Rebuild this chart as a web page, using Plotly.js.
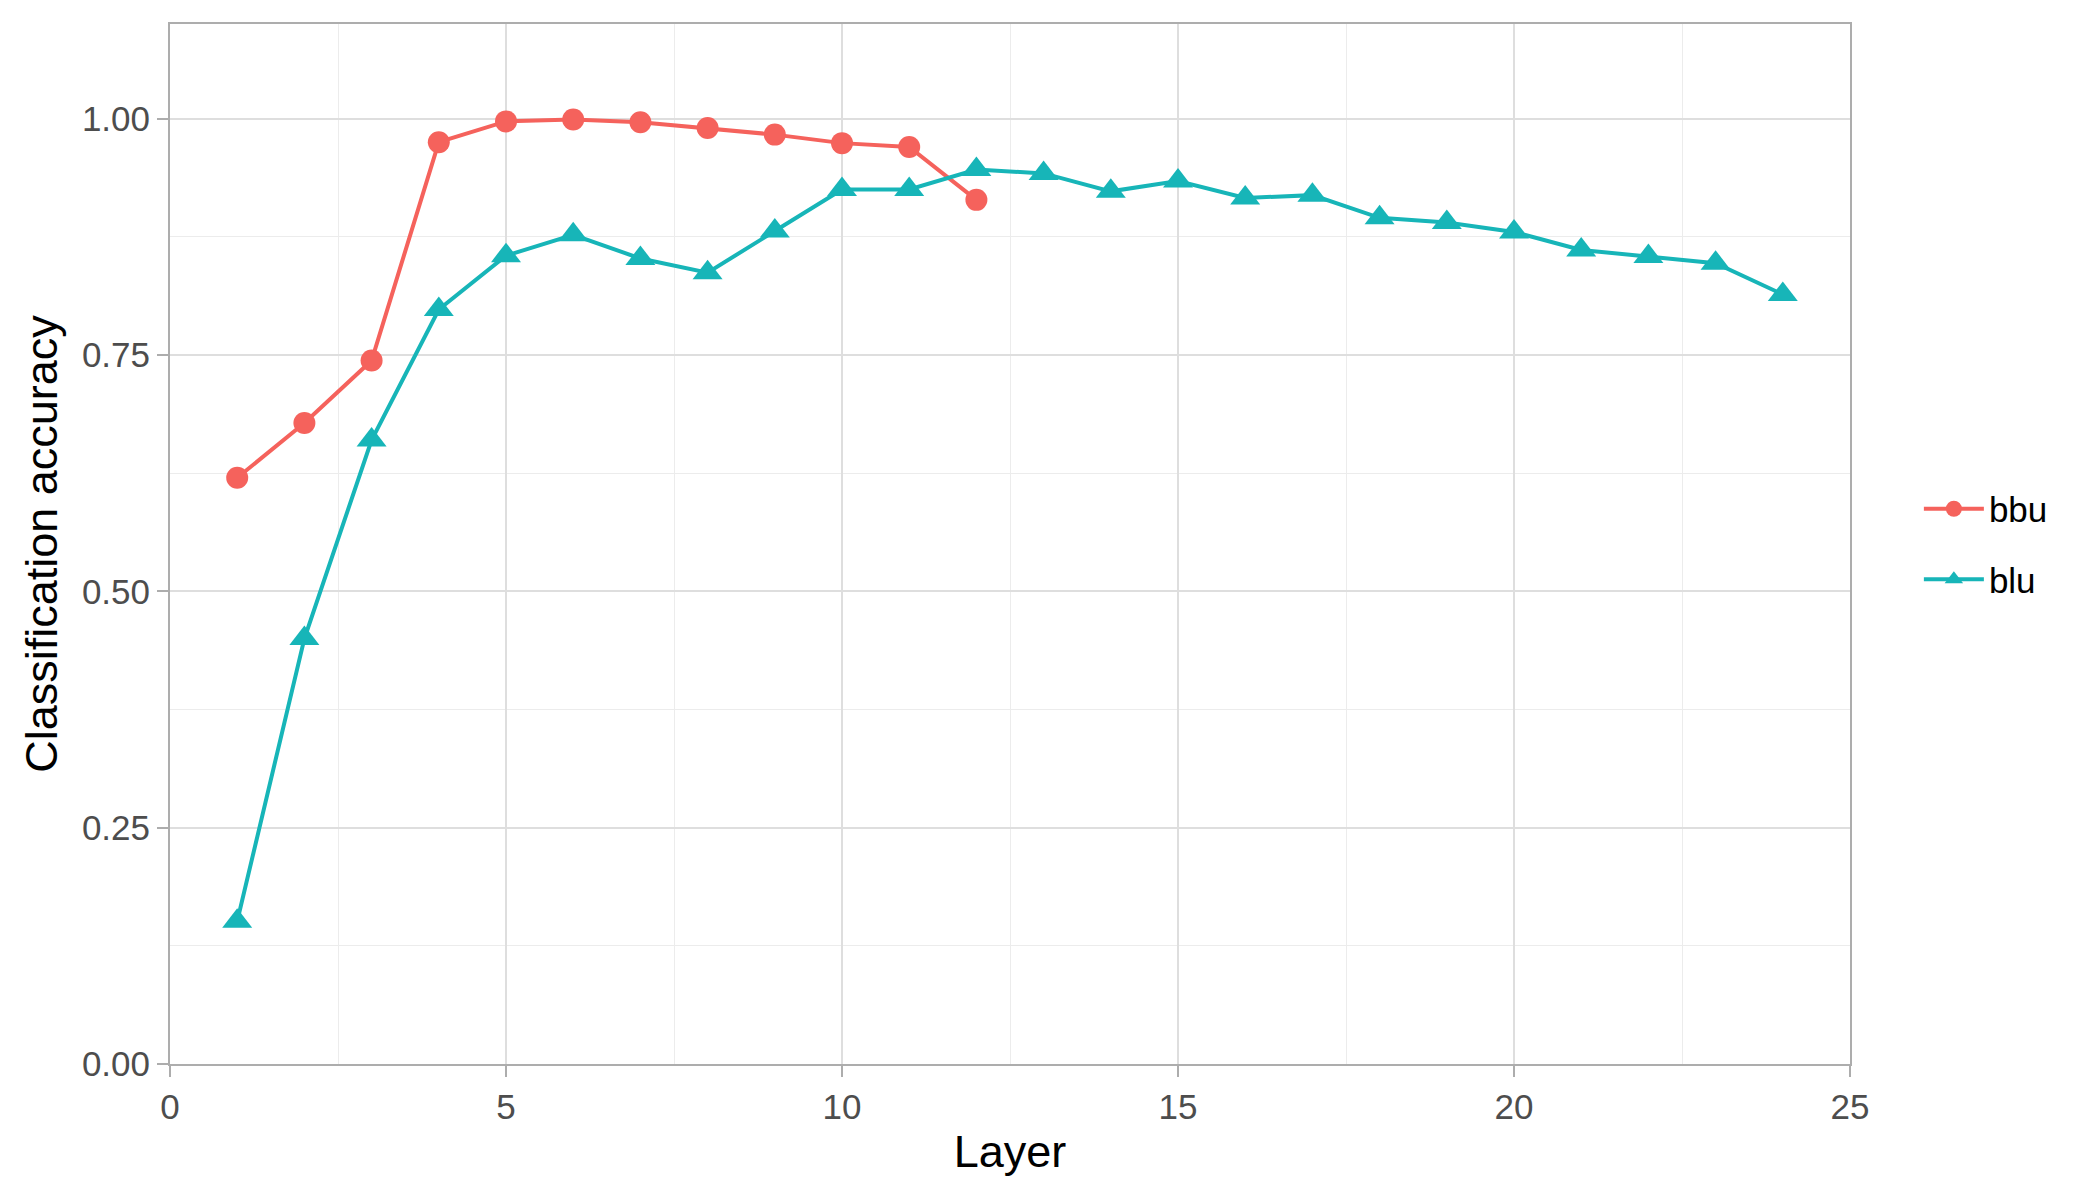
<!DOCTYPE html>
<html>
<head>
<meta charset="utf-8">
<script src="https://cdn.plot.ly/plotly-3.0.1.min.js"></script>
<style>
  body { margin: 0; background: #fff; }
  #chart { width: 2100px; height: 1200px; }
</style>
</head>
<body>
<div id="chart"></div>
<script>
// layers 1..12 for bbu, 1..24 for blu
const bbuLayer = [1, 2, 3, 4, 5, 6, 7, 8, 9, 10, 11, 12];
const bbuAcc = [0.620, 0.678, 0.744, 0.975, 0.997, 0.999, 0.996, 0.990, 0.983, 0.974, 0.970, 0.914];

const bluLayer = [1, 2, 3, 4, 5, 6, 7, 8, 9, 10, 11, 12,
                  13, 14, 15, 16, 17, 18, 19, 20, 21, 22, 23, 24];
const bluAcc = [0.151, 0.450, 0.660, 0.798, 0.855, 0.877, 0.852, 0.837, 0.881, 0.925, 0.925, 0.946,
                0.942, 0.923, 0.934, 0.916, 0.919, 0.895, 0.890, 0.880, 0.861, 0.854, 0.847, 0.814];

const xTicks = [0, 5, 10, 15, 20, 25];
const yTicks = [0, 0.25, 0.5, 0.75, 1.0];
const yTickText = ['0.00', '0.25', '0.50', '0.75', '1.00'];

const red = '#F5625C';
const teal = '#17B5B8';
const font = 'Liberation Sans, Arial, sans-serif';

var bbu = {
  x: bbuLayer,
  y: bbuAcc,
  name: 'bbu',
  legendgroup: 'a',
  type: 'scatter',
  mode: 'lines+markers',
  line: { color: red, width: 4 },
  marker: { color: red, size: 22, symbol: 'circle' }
};
var blu = {
  x: bluLayer,
  y: bluAcc,
  name: 'blu',
  legendgroup: 'b',
  type: 'scatter',
  mode: 'lines+markers',
  line: { color: teal, width: 4 },
  marker: { color: teal, size: 26, symbol: 'triangle-up' }
};

var axisCommon = {
  showline: true,
  mirror: true,
  linecolor: '#adadad',
  linewidth: 2,
  showgrid: true,
  gridcolor: '#dedede',
  gridwidth: 2,
  zeroline: false,
  ticks: 'outside',
  ticklen: 11,
  tickwidth: 2,
  tickcolor: '#adadad',
  tickfont: { family: font, size: 35, color: '#4d4d4d' }
};

var layout = {
  width: 2100,
  height: 1200,
  paper_bgcolor: '#ffffff',
  plot_bgcolor: '#ffffff',
  margin: { l: 170, r: 250, t: 24, b: 136 },
  showlegend: true,
  legend: {
    x: 1.041,
    xanchor: 'left',
    y: 0.5,
    yanchor: 'middle',
    font: { family: font, size: 35, color: '#000000' },
    itemwidth: 60,
    traceorder: 'grouped',
    tracegroupgap: 22,
    bgcolor: 'rgba(0,0,0,0)'
  },
  xaxis: Object.assign({}, axisCommon, {
    range: [0, 25],
    tickvals: xTicks,
    ticktext: xTicks.map(String),
    minor: { dtick: 2.5, tick0: 0, showgrid: true, gridcolor: '#ececec', gridwidth: 1, ticks: '' },
    title: {
      text: 'Layer',
      font: { family: font, size: 45, color: '#000000' },
      standoff: 10
    }
  }),
  yaxis: Object.assign({}, axisCommon, {
    range: [0, 1.1],
    tickvals: yTicks,
    ticktext: yTickText,
    minor: { dtick: 0.125, tick0: 0, showgrid: true, gridcolor: '#ececec', gridwidth: 1, ticks: '' },
    title: {
      text: 'Classification accuracy',
      font: { family: font, size: 45, color: '#000000' },
      standoff: 10
    }
  })
};

Plotly.newPlot('chart', [bbu, blu], layout, { displayModeBar: false, staticPlot: true });
</script>
</body>
</html>
